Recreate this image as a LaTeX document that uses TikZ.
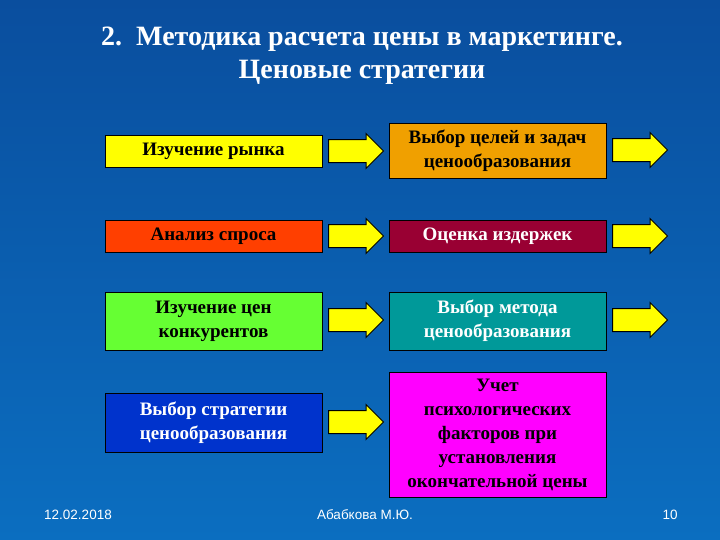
\documentclass[tikz,border=0pt]{standalone}
\usepackage{fontspec}
\setmainfont{Liberation Serif}
\newfontfamily\sansf{Liberation Sans}
\usetikzlibrary{shapes.arrows}
\definecolor{bgtop}{HTML}{0A4E9E}
\definecolor{bgbot}{HTML}{0B6EC0}
\definecolor{cyel}{HTML}{FFFF00}
\definecolor{cora}{HTML}{F0A000}
\definecolor{cred}{HTML}{FF3F00}
\definecolor{cmar}{HTML}{990033}
\definecolor{cgrn}{HTML}{66FF33}
\definecolor{cteal}{HTML}{009999}
\definecolor{cblu}{HTML}{0033CC}
\definecolor{cmag}{HTML}{FF00FF}
\begin{document}
\begin{tikzpicture}[x=1pt,y=-1pt,
  boxst/.style={draw=black,line width=0.8pt,minimum width=217pt,align=center,font=\bfseries\fontsize{19}{24}\selectfont,inner sep=1pt},
  arr/.style={single arrow,draw=black,line width=1pt,fill=cyel,minimum height=55pt,minimum width=34pt,single arrow head extend=6pt,inner sep=0pt,anchor=west,text height=22pt},
  foot/.style={text=white,font=\sansf\fontsize{13.5}{16}\selectfont}]
\shade[top color=bgtop,bottom color=bgbot] (0,0) rectangle (720,540);
\useasboundingbox (0,0) rectangle (720,540);
\node[text=white,font=\bfseries\fontsize{28}{33}\selectfont,align=center] (title) at (362,56) {2.\ \ Методика расчета цены в маркетинге.\\Ценовые стратегии};
\node[boxst,fill=cyel,minimum height=32pt] (b1) at (213.5,151) {Изучение рынка};
\node[boxst,fill=cora,minimum height=55pt] (b2) at (497.5,150.5) {Выбор целей и задач\\ценообразования};
\node[boxst,fill=cred,minimum height=32pt] (b3) at (213.5,236) {Анализ спроса};
\node[boxst,fill=cmar,text=white,minimum height=32pt] (b4) at (497.5,236) {Оценка издержек};
\node[boxst,fill=cgrn,minimum height=58pt] (b5) at (213.5,321) {Изучение цен\\конкурентов};
\node[boxst,fill=cteal,text=white,minimum height=58pt] (b6) at (497.5,321) {Выбор метода\\ценообразования};
\node[boxst,fill=cblu,text=white,minimum height=59pt] (b7) at (213.5,422.5) {Выбор стратегии\\ценообразования};
\node[boxst,fill=cmag,minimum height=125pt] (b8) at (497.5,434.5) {Учет\\психологических\\факторов при\\установления\\окончательной цены};
\node[arr] (a1) at (328,151) {};
\node[arr] (a2) at (328,236) {};
\node[arr] (a3) at (328,320) {};
\node[arr] (a4) at (328,422) {};
\node[arr] (a5) at (612,150) {};
\node[arr] (a6) at (612,236) {};
\node[arr] (a7) at (612,320) {};
\node[foot] (f1) at (78,515) {12.02.2018};
\node[foot] (f2) at (365,515) {Абабкова М.Ю.};
\node[foot] (f3) at (670,515) {10};
\end{tikzpicture}
\end{document}
